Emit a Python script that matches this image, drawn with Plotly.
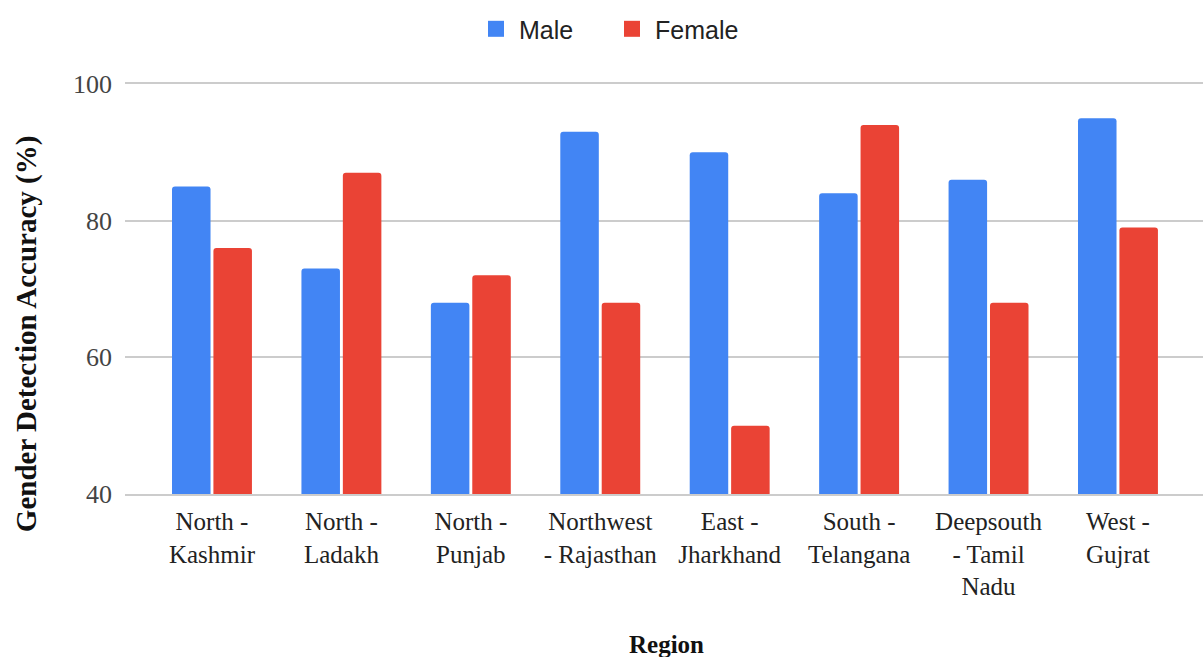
import plotly.graph_objects as go

regions = [
    "North -<br>Kashmir", "North -<br>Ladakh", "North -<br>Punjab",
    "Northwest<br>- Rajasthan", "East -<br>Jharkhand", "South -<br>Telangana",
    "Deepsouth<br>- Tamil<br>Nadu", "West -<br>Gujrat",
]
male = [85, 73, 68, 93, 90, 84, 86, 95]
female = [76, 87, 72, 68, 50, 94, 68, 79]

serif = "Liberation Serif"
colors = {"Male": "#4285F4", "Female": "#EA4335"}

fig = go.Figure()
for name, vals in (("Male", male), ("Female", female)):
    fig.add_trace(go.Bar(x=regions, y=vals, name=name, marker_color=colors[name],
                         marker_line_width=0, legendgroup=name, showlegend=False))
# square legend keys
for name in ("Male", "Female"):
    fig.add_trace(go.Scatter(x=[None], y=[None], mode="markers", name=name,
                             legendgroup=name,
                             marker=dict(symbol="square", size=24, color=colors[name])))

fig.update_layout(
    width=1203, height=657,
    margin=dict(l=125, r=0, t=84, b=163, autoexpand=False),
    paper_bgcolor="white", plot_bgcolor="white",
    barmode="group", bargap=0.36, bargroupgap=0.07, barcornerradius=3,
    showlegend=True,
    legend=dict(orientation="h", x=0.449, xanchor="center", y=1.134, yanchor="middle",
                font=dict(family="Liberation Sans", size=25, color="#222222"),
                itemwidth=36, entrywidth=85, entrywidthmode="pixels",
                traceorder="normal"),
    xaxis=dict(
        range=[-0.672, 7.657], showgrid=False, ticks="", automargin=False,
        showline=True, linecolor="#cccccc", linewidth=2, mirror=True,
        tickfont=dict(family=serif, size=25, color="#222222"), ticklabelstandoff=4,
    ),
    yaxis=dict(
        range=[40, 100], tickvals=[40, 60, 80, 100], showgrid=True, automargin=False,
        gridcolor="#cccccc", gridwidth=2, zeroline=False, showline=False, ticks="",
        tickfont=dict(family=serif, size=26, color="#444444"), ticklabelstandoff=12,
    ),
    annotations=[
        dict(text="<b>Gender Detection Accuracy (%)</b>", textangle=-90,
             xref="paper", yref="paper", x=-0.0918, y=0.39,
             xanchor="center", yanchor="middle", showarrow=False,
             font=dict(family=serif, size=29, color="#111111")),
        dict(text="<b>Region</b>",
             xref="paper", yref="paper", x=0.502, y=-0.368,
             xanchor="center", yanchor="middle", showarrow=False,
             font=dict(family=serif, size=25, color="#111111")),
    ],
)

fig.write_html("out.html")
